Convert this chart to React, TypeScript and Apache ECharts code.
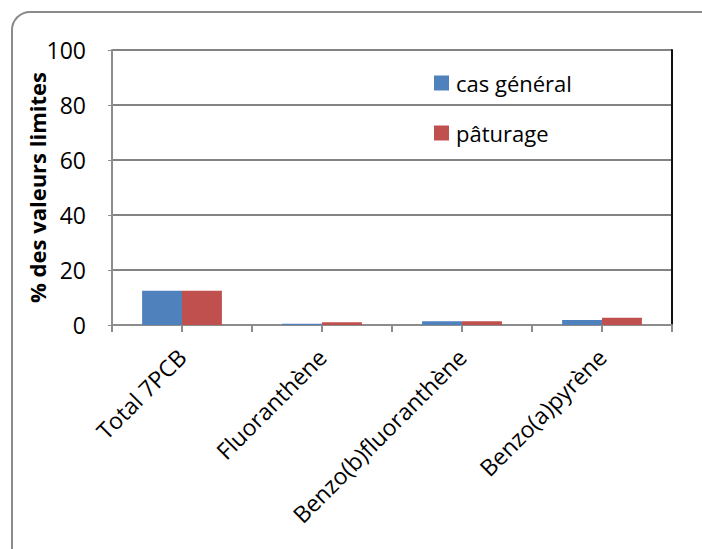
import React, { useEffect, useRef } from "react";
import * as echarts from "echarts";

const categories = ["Total 7PCB", "Fluoranthène", "Benzo(b)fluoranthène", "Benzo(a)pyrène"];
const casGeneral = [12.5, 0.5, 1.4, 1.8];
const paturage = [12.5, 1.0, 1.4, 2.6];
const seriesNames = ["cas général", "pâturage"];
const yAxisName = "% des valeurs limites";

const FONT = "'Open Sans', sans-serif";

export default function App() {
  const ref = useRef<HTMLDivElement>(null);
  useEffect(() => {
    if (!ref.current) return;
    const chart = echarts.init(ref.current, null, { renderer: "svg" });
    chart.setOption({
      animation: false,
      backgroundColor: "#ffffff",
      textStyle: { fontFamily: FONT },
      graphic: [
        {
          type: "rect",
          shape: { x: 12, y: 12, width: 720, height: 580, r: 18 },
          style: { fill: "none", stroke: "#8a8a8a", lineWidth: 2 },
          silent: true,
        },
      ],
      grid: {
        left: 112,
        right: 30,
        top: 50,
        bottom: 224,
        containLabel: false,
        outerBoundsMode: "none",
      },
      legend: {
        orient: "vertical",
        left: 429,
        top: 65,
        itemWidth: 15,
        itemHeight: 15,
        itemGap: 24,
        icon: "rect",
        textStyle: { fontSize: 22, color: "#000", fontFamily: FONT, padding: [0, 0, 0, 2], lineHeight: 26 },
        data: seriesNames,
      },
      xAxis: [
        {
          type: "category",
          data: categories,
          axisLine: { show: true, lineStyle: { color: "#8c8c8c", width: 2 } },
          axisTick: { show: false },
          axisLabel: {
            rotate: 45,
            interval: 0,
            fontSize: 23,
            color: "#000",
            fontFamily: FONT,
            margin: 28,
            padding: [28, 0, 0, 0],
          },
        },
        {
          type: "value",
          min: 0,
          max: 8,
          interval: 1,
          position: "bottom",
          axisLine: { show: false },
          axisTick: { show: true, length: 7, lineStyle: { color: "#8c8c8c", width: 2 } },
          axisLabel: { show: false },
          splitLine: { show: false },
        },
      ],
      yAxis: [
        {
          type: "value",
          min: 0,
          max: 100,
          interval: 20,
          name: yAxisName,
          nameLocation: "middle",
          nameGap: 64,
          nameMoveOverlap: false,
          nameTextStyle: { fontSize: 22, fontWeight: "bold", color: "#000", fontFamily: FONT },
          axisLine: { show: true, lineStyle: { color: "#8c8c8c", width: 2 } },
          axisTick: { show: true, length: 4, lineStyle: { color: "#8c8c8c" } },
          axisLabel: { show: false },
          splitLine: { show: true, lineStyle: { color: "#5a5a5a", width: 1.5 } },
        },
        {
          type: "value",
          min: 0,
          max: 100,
          interval: 20,
          position: "right",
          axisLine: { show: true, lineStyle: { color: "#111", width: 2 } },
          axisTick: { show: false },
          axisLabel: { show: false },
          splitLine: { show: false },
        },
        {
          type: "value",
          min: 0,
          max: 100,
          interval: 20,
          position: "left",
          offset: 26,
          axisLine: { show: false },
          axisTick: { show: false },
          axisLabel: { fontSize: 23, color: "#000", fontFamily: FONT, margin: 0 },
          splitLine: { show: false },
        },
      ],
      series: [
        {
          name: seriesNames[0],
          type: "bar",
          data: casGeneral,
          barGap: "0%",
          barCategoryGap: "43%",
          itemStyle: { color: "#4F81BD" },
        },
        {
          name: seriesNames[1],
          type: "bar",
          data: paturage,
          barGap: "0%",
          barCategoryGap: "43%",
          itemStyle: { color: "#C0504D" },
        },
      ],
    });
    return () => chart.dispose();
  }, []);
  return (
    <div
      ref={ref}
      style={{ position: "fixed", left: 0, top: 0, width: 702, height: 549, background: "#fff" }}
    />
  );
}
